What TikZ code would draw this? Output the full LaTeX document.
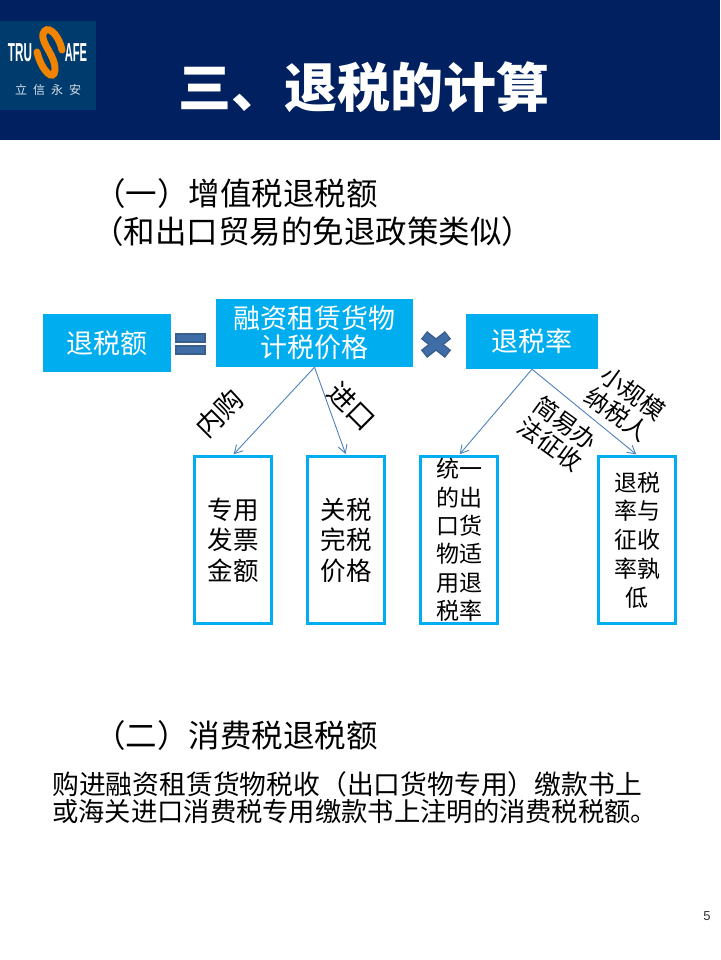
\documentclass[tikz,border=0pt]{standalone}
\usepackage{fontspec}
\setmainfont{Noto Sans CJK SC}
\newfontfamily\latinsans{Liberation Sans}
\usetikzlibrary{arrows.meta}
\definecolor{navy}{HTML}{00205F}
\definecolor{logoblue}{HTML}{003B6E}
\definecolor{cyanbox}{HTML}{00AEEF}
\definecolor{arrowblue}{HTML}{4F81BD}
\definecolor{symblue}{HTML}{3F6DA8}
\definecolor{symedge}{HTML}{3A5F8A}
\definecolor{sorange}{HTML}{F08300}
\newcommand{\fs}[2]{\fontsize{#1}{#2}\selectfont}
\tikzset{
  x=1pt,y=-1pt,
  solidbox/.style={fill=cyanbox,text=white,inner sep=0pt,align=center},
  framebox/.style={draw=cyanbox,line width=3pt,fill=white,text=black,inner sep=0pt,align=center,minimum width=77pt,minimum height=167pt},
  branch/.style={draw=arrowblue,line width=.9pt,-{Straight Barb[length=8pt,width=9pt]},shorten >=1pt},
  tilted/.style={inner sep=0pt,align=center,text=black},
  heading/.style={inner sep=0pt,anchor=west,text=black}
}
\begin{document}
\begin{tikzpicture}
\useasboundingbox (0,0) rectangle (720,960);
\fill[white] (0,0) rectangle (720,960);
\fill[navy] (0,0) rectangle (720,140);
% logo
\fill[logoblue] (0,21) rectangle (96,110);
\node[inner sep=0pt,text=white,xscale=.45,transform shape,font=\latinsans\bfseries\fs{26}{26}] (logoL) at (20,52.5) {TRU};
\node[inner sep=0pt,text=white,xscale=.43,transform shape,font=\latinsans\bfseries\fs{26}{26}] (logoR) at (76,52.5) {AFE};
\draw[sorange,line width=7pt,line cap=round] (62,50) .. controls (58,32) and (46,24) .. (43,34) .. controls (41,44) and (56,56) .. (55,70) .. controls (54,82) and (42,72) .. (37,52);
\node[inner sep=0pt,text=white!85!logoblue,font=\fs{12}{12}] (logoC) at (48,90) {立\hspace{6pt}信\hspace{6pt}永\hspace{6pt}安};
% title and headings
\node[inner sep=0pt,text=white,font=\bfseries\fs{53}{53}] (title) at (364,87) {三、退税的计算};
\node[heading,font=\fs{31.5}{36}] (h1) at (94,194) {（一）增值税退税额};
\node[heading,font=\fs{31.5}{36}] (h2) at (92,232) {（和出口贸易的免退政策类似）};
\node[heading,font=\fs{31.5}{36}] (h3) at (94,736) {（二）消费税退税额};
\node[heading,font=\fs{26.8}{32}] (b1) at (52,784) {购进融资租赁货物税收（出口货物专用）缴款书上};
\node[heading,font=\fs{26.3}{32}] (b2) at (52,812) {或海关进口消费税专用缴款书上注明的消费税税额。};
% top row
\node[solidbox,minimum width=128pt,minimum height=58pt,font=\fs{27}{32}] (amount) at (107,343) {退税额};
\node[solidbox,minimum width=197pt,minimum height=68pt,font=\fs{27}{29}] (price) at (314.5,333) {融资租赁货物\\计税价格};
\node[solidbox,minimum width=132pt,minimum height=55pt,font=\fs{27}{32}] (rate) at (532,341.5) {退税率};
% equals sign
\fill[symblue,draw=symedge,line width=1.5pt] (176,334) rectangle (205,342);
\fill[symblue,draw=symedge,line width=1.5pt] (176,346) rectangle (205,354);
% times sign
\draw[symedge,line width=10pt] (424,335) -- (448,354) (448,335) -- (424,354);
\draw[symblue,line width=7pt] (425,336) -- (447,353) (447,336) -- (425,353);
% lower boxes
\node[framebox,font=\fs{25.5}{30.5}] (buy) at (233,540) {专用\\发票\\金额};
\node[framebox,font=\fs{25.5}{30.5}] (customs) at (346,540) {关税\\完税\\价格};
\node[framebox,font=\fs{23}{28.4}] (unified) at (459,540) {统一\\的出\\口货\\物适\\用退\\税率};
\node[framebox,font=\fs{23}{28.8}] (lower) at (637,540) {退税\\率与\\征收\\率孰\\低};
% connectors
\draw[branch] (price.south) -- (buy.north);
\draw[branch] (price.south) -- (customs.north);
\draw[branch] (rate.south) -- (unified.north);
\draw[branch] (rate.south) -- (lower.north);
% branch labels
\node[tilted,rotate=45,font=\fs{27}{30}] (l1) at (219,413) {内购};
\node[tilted,rotate=-45,font=\fs{27}{30}] (l2) at (352,406) {进口};
\node[tilted,rotate=-36,font=\fs{24}{26}] (l3) at (558,434) {简易办\\法征收};
\node[tilted,rotate=-36,font=\fs{24}{26}] (l4) at (625,404) {小规模\\纳税人};
% page number
\node[inner sep=0pt,text=black!80,font=\latinsans\fs{13}{13}] (page) at (707,916) {5};
\end{tikzpicture}
\end{document}
